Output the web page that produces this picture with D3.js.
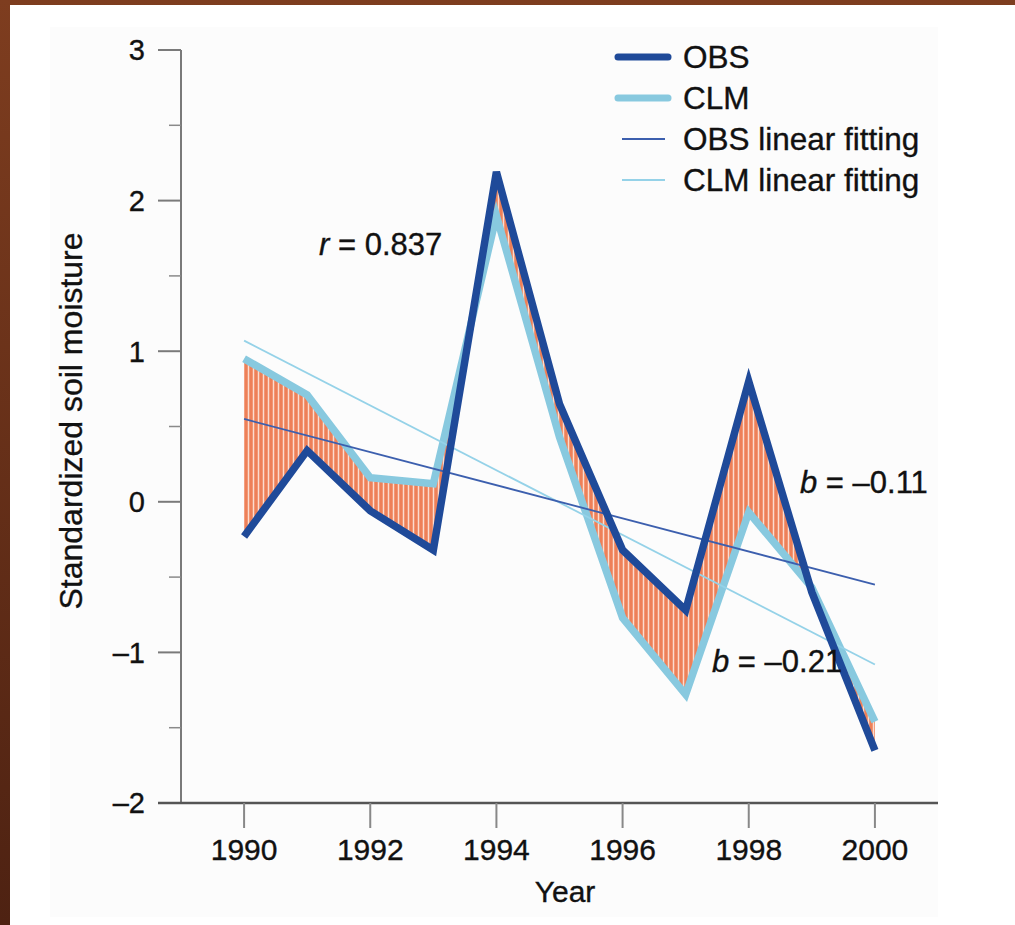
<!DOCTYPE html>
<html>
<head>
<meta charset="utf-8">
<script src="https://cdn.jsdelivr.net/npm/d3@7"></script>
<style>
  body { margin: 0; background: #fff; }
  text { font-family: "Liberation Sans", Arial, sans-serif; fill: #111; stroke: #111; stroke-width: 0.35px; }
</style>
</head>
<body>
<div id="chart"></div>
<script>
// valores
const years = [1990, 1991, 1992, 1993, 1994, 1995, 1996, 1997, 1998, 1999, 2000];
const obs = [-0.23, 0.34, -0.06, -0.32, 2.19, 0.65, -0.32, -0.72, 0.80, -0.60, -1.65];
const clm = [0.95, 0.71, 0.16, 0.12, 1.90, 0.43, -0.77, -1.28, -0.07, -0.57, -1.46];
const fitYears = [1990, 2000];
const obsFit = [0.55, -0.55];
const clmFit = [1.07, -1.08];
const xTicks = [1990, 1992, 1994, 1996, 1998, 2000];
const yTicks = [-2, -1, 0, 1, 2, 3];
const yMinor = [-1.5, -0.5, 0.5, 1.5, 2.5];
const legendLabels = ["OBS", "CLM", "OBS linear fitting", "CLM linear fitting"];

const W = 1015, H = 925;
const corObs = "#1f4a99", corClm = "#88c9df";
const corObsFit = "#3c5fae", corClmFit = "#95d2e8";

const svg = d3.select("#chart").append("svg")
    .attr("width", W)
    .attr("height", H);

// fundo (moldura castanha do slide)
const defs = svg.append("defs");
const grad = defs.append("linearGradient")
    .attr("id", "castanho")
    .attr("x1", 0).attr("y1", 0).attr("x2", 0).attr("y2", 1);
grad.append("stop").attr("offset", "0%").attr("stop-color", "#7e3d1f");
grad.append("stop").attr("offset", "100%").attr("stop-color", "#4e2212");

const padrao = defs.append("pattern")
    .attr("id", "riscas")
    .attr("patternUnits", "userSpaceOnUse")
    .attr("width", 5).attr("height", 10);
padrao.append("rect").attr("width", 5).attr("height", 10).attr("fill", "#ee8058");
padrao.append("line")
    .attr("x1", 3.5).attr("x2", 3.5).attr("y1", 0).attr("y2", 10)
    .attr("stroke", "#fcdccf").attr("stroke-width", 1.5);

svg.append("rect").attr("width", W).attr("height", H).attr("fill", "url(#castanho)");
svg.append("rect").attr("x", 10).attr("y", 5).attr("width", W - 10).attr("height", H - 5).attr("fill", "#fff");
svg.append("rect").attr("x", 50).attr("y", 27).attr("width", 888).attr("height", 890).attr("fill", "#fcfcfc");

// escalas
const x = d3.scaleLinear().domain([1989, 2001]).range([181, 938]);
const y = d3.scaleLinear().domain([-2, 3]).range([803, 50]);

// eixo y (feito à mão para imitar o estilo)
const gy = svg.append("g");
gy.append("line")
    .attr("x1", x(1989)).attr("x2", x(1989))
    .attr("y1", y(3)).attr("y2", y(-2))
    .attr("stroke", "#7a7a7a").attr("stroke-width", 2);
gy.selectAll(".maj").data(yTicks).enter().append("line")
    .attr("x1", x(1989) - 23).attr("x2", x(1989))
    .attr("y1", d => y(d)).attr("y2", d => y(d))
    .attr("stroke", "#7a7a7a").attr("stroke-width", 2);
gy.selectAll(".min").data(yMinor).enter().append("line")
    .attr("x1", x(1989) - 12).attr("x2", x(1989))
    .attr("y1", d => y(d)).attr("y2", d => y(d))
    .attr("stroke", "#8a8a8a").attr("stroke-width", 1.5);
gy.selectAll("text").data(yTicks).enter().append("text")
    .attr("x", 145)
    .attr("y", d => y(d))
    .attr("dy", "0.36em")
    .attr("text-anchor", "end")
    .style("font-size", "29px")
    .text(d => d < 0 ? "–" + Math.abs(d) : d);

// eixo x
const gx = svg.append("g");
gx.append("line")
    .attr("x1", x(1989) - 23).attr("x2", x(2001))
    .attr("y1", y(-2)).attr("y2", y(-2))
    .attr("stroke", "#555").attr("stroke-width", 2.5);
gx.selectAll(".tk").data(xTicks).enter().append("line")
    .attr("x1", d => x(d)).attr("x2", d => x(d))
    .attr("y1", y(-2)).attr("y2", y(-2) + 25)
    .attr("stroke", "#888").attr("stroke-width", 2);
gx.selectAll("text").data(xTicks).enter().append("text")
    .attr("x", d => x(d))
    .attr("y", 860)
    .attr("text-anchor", "middle")
    .style("font-size", "30px")
    .text(d => d);

svg.append("text")
    .attr("x", 565).attr("y", 902)
    .attr("text-anchor", "middle")
    .style("font-size", "30px")
    .text("Year");

svg.append("text")
    .attr("transform", "translate(82," + 421 + ") rotate(-90)")
    .attr("text-anchor", "middle")
    .style("font-size", "32px")
    .text("Standardized soil moisture");

// área entre as duas séries
const dados = years.map((d, i) => ({ ano: d, obs: obs[i], clm: clm[i] }));

const area = d3.area()
    .x(d => x(d.ano))
    .y0(d => y(d.clm))
    .y1(d => y(d.obs));

svg.append("path")
    .datum(dados)
    .attr("d", area)
    .attr("fill", "url(#riscas)");

const linhaClm = d3.line().x(d => x(d.ano)).y(d => y(d.clm));
const linhaObs = d3.line().x(d => x(d.ano)).y(d => y(d.obs));

svg.append("path")
    .datum(dados)
    .attr("d", linhaClm)
    .attr("fill", "none")
    .attr("stroke", corClm)
    .attr("stroke-width", 7.5)
    .attr("stroke-linejoin", "miter");

// rectas de ajuste
const fitLinha = d3.line().x(d => x(d[0])).y(d => y(d[1]));
svg.append("path")
    .datum(fitYears.map((a, i) => [a, clmFit[i]]))
    .attr("d", fitLinha)
    .attr("fill", "none")
    .attr("stroke", corClmFit)
    .attr("stroke-width", 1.8);
svg.append("path")
    .datum(fitYears.map((a, i) => [a, obsFit[i]]))
    .attr("d", fitLinha)
    .attr("fill", "none")
    .attr("stroke", corObsFit)
    .attr("stroke-width", 1.8);

svg.append("path")
    .datum(dados)
    .attr("d", linhaObs)
    .attr("fill", "none")
    .attr("stroke", corObs)
    .attr("stroke-width", 7.5)
    .attr("stroke-linejoin", "miter");

// anotações
function anota(px, py, letra, resto) {
    const t = svg.append("text")
        .attr("x", px).attr("y", py)
        .style("font-size", "31px");
    t.append("tspan").style("font-style", "italic").text(letra);
    t.append("tspan").text(resto);
}
anota(319, 255, "r", " = 0.837");
anota(800, 493, "b", " = –0.11");
anota(712, 672, "b", " = –0.21");

// legenda
const legCores = [corObs, corClm, corObsFit, corClmFit];
const legLarg = [7, 7, 2, 2];
const leg = svg.append("g").attr("transform", "translate(618,57)");
legendLabels.forEach(function (lab, i) {
    const grossa = legLarg[i] > 3;
    leg.append("line")
        .attr("x1", grossa ? 0 : 4).attr("x2", grossa ? 50 : 47)
        .attr("y1", i * 41).attr("y2", i * 41)
        .attr("stroke", legCores[i])
        .attr("stroke-width", legLarg[i])
        .attr("stroke-linecap", grossa ? "round" : "butt");
    leg.append("text")
        .attr("x", 65).attr("y", i * 41)
        .attr("dy", "0.36em")
        .style("font-size", "31.5px")
        .text(lab);
});
</script>
</body>
</html>
